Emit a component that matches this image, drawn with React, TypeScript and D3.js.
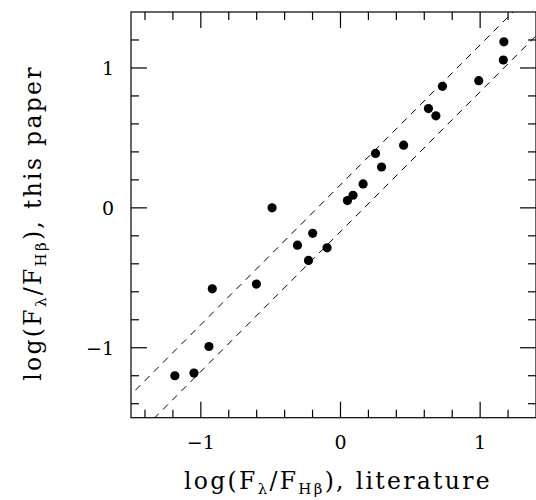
import * as d3 from "d3";

// log flux ratios: literature (x) vs this paper (y)
const litVals = [1.17, 1.166, 0.99, 0.73, 0.63, 0.683, 0.452, 0.251, 0.294, 0.162, 0.09, 0.05, -0.49, -0.199, -0.308, -0.096, -0.229, -0.602, -0.918, -0.942, -1.049, -1.186];
const paperVals = [1.187, 1.057, 0.909, 0.869, 0.71, 0.658, 0.448, 0.389, 0.292, 0.171, 0.09, 0.052, 0.0, -0.182, -0.267, -0.286, -0.376, -0.545, -0.579, -0.991, -1.181, -1.2];
const majorTicks = [-1, 0, 1];
const minorTicks = [-1.4, -1.2, -0.8, -0.6, -0.4, -0.2, 0.2, 0.4, 0.6, 0.8, 1.2];
const bandOffsets = [0.165, -0.17];

const W = 536;
const H = 500;
const font = "'DejaVu Serif', serif";

export default function App() {
  const x = d3.scaleLinear().domain([-1.5, 1.4]).range([131, 536]);
  const y = d3.scaleLinear().domain([-1.5, 1.4]).range([417.7, 12]);
  const [x0, x1] = x.range();
  const [y0, y1] = y.range();
  const line = d3.line<number>().x((d) => x(d)).y((d) => y(d));

  const tick = (v: number, len: number, key: string) => (
    <g key={key}>
      <line x1={x(v)} x2={x(v)} y1={y0} y2={y0 - len} />
      <line x1={x(v)} x2={x(v)} y1={y1} y2={y1 + len} />
      <line x1={x0} x2={x0 + len} y1={y(v)} y2={y(v)} />
      <line x1={x1} x2={x1 - len} y1={y(v)} y2={y(v)} />
    </g>
  );

  const title = (tail: string) => (
    <>
      log(F<tspan fontSize={15} dy={5}>λ</tspan>
      <tspan dy={-5}>/F</tspan>
      <tspan fontSize={15} dy={5}>Hβ</tspan>
      <tspan dy={-5}>{tail}</tspan>
    </>
  );

  return (
    <div style={{ position: "absolute", left: 0, top: 0, background: "#fff" }}>
      <svg width={W} height={H} viewBox={`0 0 ${W} ${H}`} style={{ display: "block" }}>
        <defs>
          <clipPath id="plot">
            <rect x={x0} y={y1} width={x1 - x0} height={y0 - y1} />
          </clipPath>
        </defs>
        <g clipPath="url(#plot)" fill="none" stroke="#000" strokeWidth={1} strokeDasharray="7 6">
          {bandOffsets.map((c) => (
            <path key={c} d={line.x((d) => x(d)).y((d) => y(d + c))([-1.6, 1.6]) || ""} />
          ))}
        </g>
        <g>
          {litVals.map((v, i) => (
            <circle key={i} cx={x(v)} cy={y(paperVals[i])} r={4.6} fill="#000" />
          ))}
        </g>
        <g stroke="#000" strokeWidth={1.2}>
          {majorTicks.map((v) => tick(v, 16, "M" + v))}
          {minorTicks.map((v) => tick(v, 8, "m" + v))}
          <rect x={x0} y={y1} width={x1 - x0} height={y0 - y1} fill="none" />
        </g>
        <g fontFamily={font} fontSize={19} fill="#000">
          {majorTicks.map((v) => (
            <text key={"xt" + v} x={x(v)} y={449} textAnchor="middle">
              {v < 0 ? "\u2212" + Math.abs(v) : v}
            </text>
          ))}
          {majorTicks.map((v) => (
            <text key={"yt" + v} x={114} y={y(v) + 7} textAnchor="end">
              {v < 0 ? "\u2212" + Math.abs(v) : v}
            </text>
          ))}
        </g>
        <g fontFamily={font} fontSize={23.5} fill="#000" letterSpacing={2.3}>
          <text x={338} y={489} textAnchor="middle">
            {title("), literature")}
          </text>
          <text transform={`translate(41,223) rotate(-90)`} textAnchor="middle">
            {title("), this paper")}
          </text>
        </g>
      </svg>
    </div>
  );
}
